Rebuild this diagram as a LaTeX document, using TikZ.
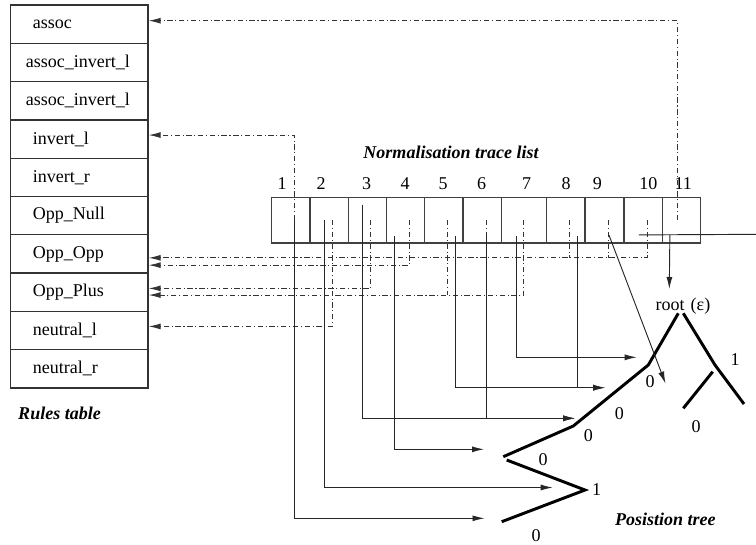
\documentclass[tikz,border=0pt]{standalone}
\usepackage{fontspec}
\setmainfont{Liberation Serif}
\usetikzlibrary{arrows.meta}
\tikzset{
	filaRegla/.style={
		draw=black!80,
		line width=1pt,
		minimum width=103pt,
		minimum height=28.7pt,
		text width=69.6pt,
		inner xsep=16.7pt,
		inner ysep=0pt,
		align=left,
		font=\fontsize{13.5}{16}\selectfont
	},
	celdaTraza/.style={
		draw=black!75,
		line width=0.9pt,
		minimum height=34.2pt,
		inner sep=0pt,
		anchor=north west
	},
	numTraza/.style={
		inner sep=0pt,
		font=\fontsize{13.5}{16}\selectfont
	},
	etiqArbol/.style={
		numTraza
	},
	tituloFig/.style={
		inner sep=0pt,
		font=\fontsize{13.5}{16}\selectfont\bfseries\itshape
	},
	flechaArbol/.style={
		-{Latex[length=9pt,width=4.5pt]},
		line width=0.7pt,
		draw=black!85
	},
	lineaRegla/.style={
		line width=0.7pt,
		draw=black!80,
		dash pattern=on 4pt off 2pt on 0.8pt off 2pt
	},
	flechaRegla/.style={
		lineaRegla,
		-{Latex[length=9pt,width=4.5pt]}
	},
	ramaArbol/.style={
		line width=2.2pt,
		draw=black
	}
}
\begin{document}
\begin{tikzpicture}[x=0.75pt, y=-0.75pt]
	\useasboundingbox (0,0) rectangle (756,544);
	% tabla de reglas
	\foreach \n/\txt in {1/assoc,2/{\hspace*{-5.25pt}\mbox{assoc\_invert\_l}},3/{\hspace*{-5.25pt}\mbox{assoc\_invert\_l}},4/invert\_l,5/invert\_r,6/Opp\_Null,7/Opp\_Opp,8/Opp\_Plus,9/neutral\_l,10/neutral\_r}{
		\node[filaRegla] (regla\n) at (79.35,{5+38.3*(\n-0.5)}) {\txt};
	}
	\node[tituloFig] (tituloReglas) at (59.5,413) {Rules table};
	% lista de trazas
	\foreach \n/\xa/\w in {1/271/38.3,2/309.3/38.4,3/347.7/38,4/385.7/38.3,5/424/38.3,6/462.3/38.4,7/500.7/45.3,8/546/38.3,9/584.3/39,10/623.3/38.4,11/661.7/38.3}{
		\node[celdaTraza, minimum width=\w*0.75pt] (celda\n) at (\xa,196.7) {};
	}
	\foreach \n/\xn in {1/282,2/321,3/366.7,4/405,5/443,6/481.7,7/526.7,8/566,9/597.3,10/648.3,11/683.3}{
		\node[numTraza] (num\n) at (\xn,184) {\n};
	}
	\node[tituloFig] (tituloTraza) at (451,152.7) {Normalisation trace list};
	% arbol de posiciones
	\draw[ramaArbol] (678.3,313.3) -- (648.3,365) -- (573.3,426) -- (503.3,456.7);
	\draw[ramaArbol] (506.7,460) -- (585,490) -- (501.7,521.7);
	\draw[ramaArbol] (683.3,313.3) -- (715,365) -- (744,404);
	\draw[ramaArbol] (712.7,371.7) -- (683.3,408.3);
	\node[etiqArbol] (raiz) at (683,306) {root\hspace{4.5pt}(ε)};
	\node[etiqArbol] (etq1) at (735,360) {1};
	\node[etiqArbol] (etq2) at (696,427) {0};
	\node[etiqArbol] (etq3) at (650,381.7) {0};
	\node[etiqArbol] (etq4) at (619.3,413.3) {0};
	\node[etiqArbol] (etq5) at (588.3,435.5) {0};
	\node[etiqArbol] (etq6) at (543,459.3) {0};
	\node[etiqArbol] (etq7) at (596.7,489.5) {1};
	\node[etiqArbol] (etq8) at (536,535.5) {0};
	\node[tituloFig] (tituloArbol) at (665.3,519.3) {Posistion tree};
	% puntos de salida en las celdas
	\foreach \n/\dx in {1/3.5,2/3.5,3/3.6,4/4.1,5/3.8,6/4.2,7/-0.1,8/4.1,9/4.5,10/4.2,11/-4.2}{
		\coordinate (d\n) at ([xshift=\dx*0.75pt]celda\n.center);
	}
	\foreach \n/\dx/\dy in {1/3.8/0,2/-4.2/0,3/-4.4/-15.5,4/-11.2/15.5,5/12.1/15.8,6/4.2/13.5,7/-7.1/15.8,8/12.1/15.8,9/4.5/14.8,10/-4.2/14.8,11/-11.6/14.8}{
		\coordinate (s\n) at ([shift={(\dx,\dy)}]celda\n.center);
	}
	\coordinate (assocA) at ([yshift=2.6pt]regla1.east);
	\coordinate (invertA) at ([yshift=3pt]regla4.east);
	\coordinate (oppOppA) at ([yshift=-2.9pt]regla7.east);
	\coordinate (oppOppB) at ([yshift=-8.4pt]regla7.east);
	\coordinate (oppPlusA) at ([yshift=2.9pt]regla8.east);
	\coordinate (oppPlusB) at ([yshift=-2.1pt]regla8.east);
	\coordinate (neutralA) at ([yshift=3.1pt]regla9.east);
	\coordinate (hoja1) at (484.5,518.3);
	\coordinate (hoja2) at (552.7,487.5);
	\coordinate (hoja3) at (575,418.3);
	\coordinate (hoja4) at (484,449.3);
	\coordinate (hoja5) at (605,387.7);
	\coordinate (hoja7) at (636.7,357.3);
	\coordinate (hoja9) at (665.5,383.5);
	\coordinate (hoja10) at (760,234.3);
	\coordinate (hoja11) at (669.3,289);
	% trazas hacia la tabla de reglas
	\draw[flechaRegla] (d11) |- (assocA);
	\draw[flechaRegla] (d1) |- (invertA);
	\draw[flechaRegla] (d10) |- (oppOppA);
	\draw[flechaRegla] (d4) |- (oppOppB);
	\draw[flechaRegla] (d3) |- (oppPlusA);
	\draw[flechaRegla] (d7) |- (oppPlusB);
	\draw[flechaRegla] (d2) |- (neutralA);
	\foreach \n in {6,8,9}{
		\draw[lineaRegla] (d\n) -- (d\n |- oppOppA);
	}
	\draw[lineaRegla] (d5) -- (d5 |- oppPlusB);
	% trazas hacia el arbol
	\foreach \n/\h in {1/1,2/2,3/3,4/4,5/5,6/3,7/7,8/5}{
		\draw[flechaArbol] (s\n) |- (hoja\h);
	}
	\draw[flechaArbol] (s9) -- (hoja9);
	\draw[flechaArbol] (s11) -- (hoja11);
	\draw[flechaArbol, -] (s10) -- (hoja10);
\end{tikzpicture}
\end{document}
